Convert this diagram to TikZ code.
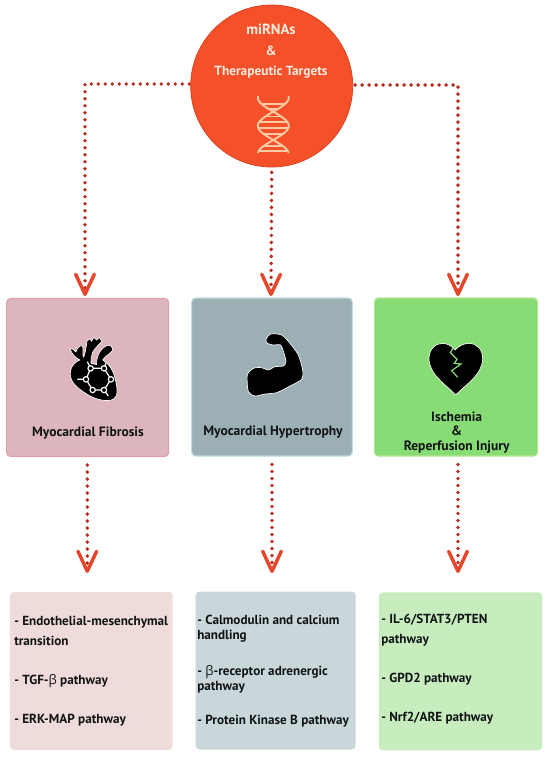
\documentclass[tikz,border=0pt]{standalone}
\usepackage{fontspec}
\setmainfont{PT Sans}
\newfontfamily\betafont{Open Sans}
\usetikzlibrary{arrows.meta,calc}
\definecolor{rootfill}{HTML}{F4512B}
\definecolor{rootedge}{HTML}{D8421F}
\definecolor{roottext}{HTML}{FCEBDD}
\definecolor{dnacol}{HTML}{F9CBA4}
\definecolor{dotcol}{HTML}{B92B1E}
\definecolor{headcol}{HTML}{E8462C}
\definecolor{inka}{HTML}{DDB6BD}
\definecolor{inkaedge}{HTML}{DF9FA6}
\definecolor{inkb}{HTML}{9BAFB5}
\definecolor{inkbedge}{HTML}{BFDEE4}
\definecolor{inkc}{HTML}{88DC75}
\definecolor{inkcedge}{HTML}{B2E68C}
\definecolor{softa}{HTML}{EFDBD9}
\definecolor{softb}{HTML}{C9D7DB}
\definecolor{softc}{HTML}{C7EDBE}
\definecolor{textcol}{HTML}{111414}
\tikzset{
  card/.style={rounded corners=3pt,line width=0.8pt,minimum width=#1,minimum height=118.5pt,inner sep=0pt},
  listcard/.style={rounded corners=3pt,draw=none,minimum width=#1,minimum height=118.5pt,inner sep=0pt},
  roottxt/.style={text=roottext,font=\fontsize{10}{12}\selectfont\bfseries,inner sep=0pt},
  cardtxt/.style={text=textcol,font=\fontsize{10.15}{10.9}\selectfont\bfseries,align=center,inner sep=0pt},
  itemtxt/.style={text=textcol,anchor=west,align=left,inner sep=0pt,font=\fontsize{9.85}{#1}\selectfont\bfseries},
  dotted link/.style={draw=dotcol,line width=2.9pt,line cap=round,dash pattern=on 0pt off 5.25pt,
    -{Straight Barb[length=15pt,width=14pt,line width=2.6pt,color=headcol,round]}},
  glyph/.style={fill=black,draw=white,line width=0.5pt,line join=round},
}
\begin{document}
\begin{tikzpicture}[x=0.75pt,y=-0.75pt]
\useasboundingbox (0,0) rectangle (550,758);
% hub
\node[circle,fill=rootfill,draw=rootedge,line width=0.6pt,minimum size=121.5pt,inner sep=0pt] (root) at (271.7,86) {};
\node[roottxt,font=\fontsize{11}{12}\selectfont\bfseries] (t1) at (271,29) {miRNAs};
\node[roottxt] (t2) at (271,51) {\&};
\node[roottxt] (t3) at (271,72) {Therapeutic Targets};
% DNA icon
\begin{scope}[draw=dnacol,line width=1.4pt]
  \draw plot[domain=96:153,samples=50,smooth] ({273.3+15.5*sin(180*(\x-111.7)/28.3)},\x);
  \draw plot[domain=96:153,samples=50,smooth] ({273.3-15.5*sin(180*(\x-111.7)/28.3)},\x);
  \foreach \yy in {104,109,116.5,122,128,134,146,151}{
    \pgfmathsetmacro{\hw}{abs(15.5*sin(180*(\yy-111.7)/28.3))}
    \draw[line width=1.2pt] ({273.3-\hw},\yy) -- ({273.3+\hw},\yy);
  }
\end{scope}
% cards
\node[card=121.5pt,fill=inka,draw=inkaedge] (a1) at (87.7,377.5) {};
\node[card=120.5pt,fill=inkb,draw=inkbedge] (b1) at (272,377) {};
\node[card=122.5pt,fill=inkc,draw=inkcedge] (c1) at (456,377) {};
% lists
\node[listcard=122pt,fill=softa] (a2) at (91.3,670.8) {};
\node[listcard=120pt,fill=softb] (b2) at (275.7,670.5) {};
\node[listcard=122.5pt,fill=softc] (c2) at (460.6,671.3) {};
% free ends of the connectors
\coordinate (tipa) at (85,296);
\coordinate (tipb) at (271,296);
\coordinate (tipc) at (458,296);
\coordinate (lowa) at (87.3,573);
\coordinate (lowb) at (272,573);
\coordinate (lowc) at (458,573);
% connectors
\draw[dotted link] ($(root.west)+(-1,-2)$) -| (tipa);
\draw[dotted link] ($(root.south)+(0,5)$) -- (tipb);
\draw[dotted link] ($(root.east)+(2,-1)$) -| (tipc);
\draw[dotted link] (lowa |- a1.south) ++(0,8) -- (lowa);
\draw[dotted link] (lowb |- b1.south) ++(0,8) -- (lowb);
\draw[dotted link] (lowc |- c1.south) ++(0,8) -- (lowc);
% heart icon
\begin{scope}[shift={(0,280)},scale=1/3]
  \draw[glyph] (222,252) .. controls (225,245) and (235,243) .. (240,240)
     .. controls (232,236) and (222,228) .. (218,222) -- (209,206)
     .. controls (215,203) and (222,210) .. (228,216)
     .. controls (230,205) and (238,196) .. (248,197)
     .. controls (250,210) and (247,222) .. (250,232)
     .. controls (255,225) and (258,205) .. (261,183)
     -- (270,176) -- (275,184) -- (281,172) -- (290,180) -- (298,172) -- (306,184)
     .. controls (295,195) and (285,205) .. (279,215)
     .. controls (275,225) and (272,240) .. (273,250)
     -- (290,254)
     .. controls (288,232) and (300,205) .. (322,196)
     .. controls (332,194) and (340,202) .. (337,212)
     .. controls (330,222) and (315,228) .. (308,240)
     .. controls (325,250) and (340,270) .. (345,295)
     .. controls (352,320) and (356,350) .. (340,358)
     .. controls (320,366) and (290,360) .. (265,345)
     .. controls (240,330) and (212,310) .. (211,285)
     .. controls (210,270) and (215,260) .. (222,252) -- cycle;
  \draw[white,line width=0.9pt] (272,265) -- (312,265) -- (333,298) -- (312,330) -- (278,330) -- (258,298) -- cycle;
  \draw[white,line width=0.9pt] (258,298) -- (232,298) (312,330) -- (325,348) (272,265) -- (262,245) (312,265) -- (318,250);
  \foreach \nx/\ny in {272/265,312/265,333/298,312/330,278/330,258/298}
    \draw[fill=black,draw=white,line width=0.9pt] (\nx,\ny) circle (8);
\end{scope}
% arm icon
\begin{scope}[shift={(210,320)},scale=1/3]
  \draw[glyph] plot[smooth cycle,tension=0.45] coordinates {(168,58) (182,42) (215,45) (240,70) (265,105) (278,150) (275,178) (240,198) (200,218) (165,222) (135,228) (115,215) (112,165) (130,145) (155,143) (175,150) (195,140) (220,138) (228,125) (222,100) (212,75) (190,75) (172,70)};
\end{scope}
% broken heart icon
\begin{scope}[shift={(275,280)},scale=1/3]
  \draw[glyph] (542,345) .. controls (515,315) and (462,285) .. (462,235)
     .. controls (462,205) and (485,190) .. (502,190)
     .. controls (518,190) and (530,198) .. (540,210)
     .. controls (552,198) and (565,190) .. (582,190)
     .. controls (605,190) and (623,208) .. (623,235)
     .. controls (623,285) and (570,315) .. (542,345) -- cycle;
  \draw[inkc,line width=0.9pt,line join=miter] (534,204) -- (526,218) -- (546,238) -- (538,250) -- (558,252) -- (530,272) -- (548,292);
\end{scope}
% card labels
\node[cardtxt] (la) at (88,433) {Myocardial Fibrosis};
\node[cardtxt] (lb) at (273,432.5) {Myocardial Hypertrophy};
\node[cardtxt] (lc) at (456.7,432.5) {Ischemia\\\&\\Reperfusion Injury};
% list items
\node[itemtxt=14.6] (a2i) at (14,631) {- Endothelial-mesenchymal\\transition};
\node[itemtxt=12] (a2j) at (14,681) {- TGF-{\betafont\mdseries β} pathway};
\node[itemtxt=12] (a2k) at (14,720) {- ERK-MAP pathway};
\node[itemtxt=11.3] (b2i) at (197,628.5) {- Calmodulin and calcium\\handling};
\node[itemtxt=11.3] (b2j) at (197,679.5) {- {\betafont\mdseries β}-receptor adrenergic\\pathway};
\node[itemtxt=12] (b2k) at (197,721) {- Protein Kinase B pathway};
\node[itemtxt=14.6] (c2i) at (381,630) {- IL-6/STAT3/PTEN\\pathway};
\node[itemtxt=12] (c2j) at (381,679) {- GPD2 pathway};
\node[itemtxt=12] (c2k) at (381,718) {- Nrf2/ARE pathway};
\end{tikzpicture}
\end{document}
